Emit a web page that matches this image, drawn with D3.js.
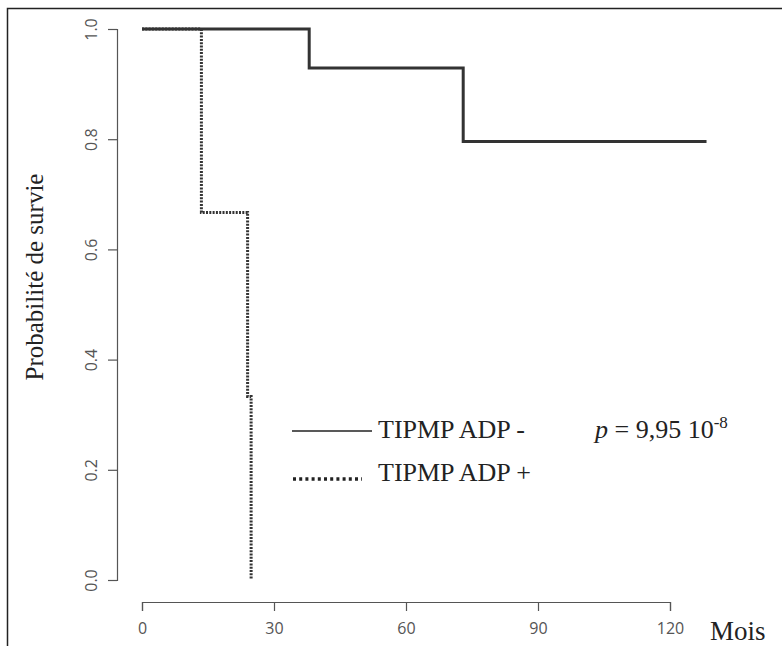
<!DOCTYPE html>
<html>
<head>
<meta charset="utf-8">
<script src="https://d3js.org/d3.v7.min.js"></script>
<style>
  body { margin: 0; background: #fff; }
</style>
</head>
<body>
<div id="vis"></div>
<script>
// survival curves (months, probability)
const adpNegTimes = [0, 38, 73, 128.3];
const adpNegSurv = [1.0, 0.929, 0.796, 0.796];
const adpPosTimes = [0, 13.5, 24, 24.8];
const adpPosSurv = [1.0, 0.667, 0.333, 0.0];
const xTicks = [0, 30, 60, 90, 120];
const yTicks = [0, 0.2, 0.4, 0.6, 0.8, 1.0];
const legendLabels = ['TIPMP ADP -', 'TIPMP ADP +'];

const W = 782, H = 646;
const svg = d3.select('#vis').append('svg').attr('width', W).attr('height', H);

// frame (cut off on right and bottom)
svg.append('path')
    .attr('d', `M7.5,${H} L7.5,8.5 L${W},8.5`)
    .attr('fill', 'none').attr('stroke', '#222').attr('stroke-width', 1.5);

const x = d3.scaleLinear().domain([0, 120]).range([142, 670]);
const y = d3.scaleLinear().domain([0, 1]).range([580, 29]);

const axisColor = '#555';
const xAxis = svg.append('g').attr('transform', 'translate(0,602)')
    .call(d3.axisBottom(x).tickValues(xTicks).tickSize(9).tickPadding(12).tickFormat(d3.format('d')));
const yAxis = svg.append('g').attr('transform', 'translate(117,0)')
    .call(d3.axisLeft(y).tickValues(yTicks).tickSize(9).tickFormat(d3.format('.1f')));
[xAxis, yAxis].forEach(g => {
    g.select('.domain').attr('stroke', axisColor).attr('stroke-width', 1.2);
    g.selectAll('.tick line').attr('stroke', axisColor).attr('stroke-width', 1.2);
    g.selectAll('.tick text').attr('fill', axisColor)
        .style('font-family', '"Open Sans", sans-serif').style('font-size', '16px');
});
yAxis.selectAll('.tick text')
    .attr('x', 0).attr('dy', 0)
    .attr('text-anchor', 'middle')
    .attr('transform', 'translate(-20,0) rotate(-90)');

const step = (times, surv) => d3.line()
    .x(d => x(d[0])).y(d => y(d[1]))
    .curve(d3.curveStepAfter)(times.map((t, i) => [t, surv[i]]));

svg.append('path').attr('d', step(adpNegTimes, adpNegSurv))
    .attr('fill', 'none').attr('stroke', '#333').attr('stroke-width', 3);
svg.append('path').attr('d', step(adpPosTimes, adpPosSurv))
    .attr('fill', 'none').attr('stroke', '#333').attr('stroke-width', 3)
    .attr('stroke-dasharray', '2,1.3');

// legend
const serif = '"Liberation Serif", "Times New Roman", serif';
svg.append('line').attr('x1', 292).attr('x2', 372).attr('y1', 431).attr('y2', 431)
    .attr('stroke', '#222').attr('stroke-width', 1.5);
svg.append('line').attr('x1', 293).attr('x2', 362).attr('y1', 479).attr('y2', 479)
    .attr('stroke', '#222').attr('stroke-width', 3.5).attr('stroke-dasharray', '3,3.2');
legendLabels.forEach((l, i) => {
    svg.append('text').attr('x', 378).attr('y', 438 + i * 43)
        .attr('font-family', serif).attr('font-size', 26).attr('fill', '#222')
        .text(l);
});

const p = svg.append('text').attr('x', 595).attr('y', 438)
    .attr('font-family', serif).attr('font-size', 26).attr('fill', '#222');
p.append('tspan').attr('font-style', 'italic').text('p');
p.append('tspan').text(' = 9,95 10');
p.append('tspan').attr('dy', -10).attr('font-size', 17).text('-8');

svg.append('text').attr('x', 710).attr('y', 640)
    .attr('font-family', serif).attr('font-size', 27).attr('fill', '#222')
    .text('Mois');

svg.append('text')
    .attr('transform', 'translate(43,277) rotate(-90)')
    .attr('text-anchor', 'middle')
    .attr('font-family', serif).attr('font-size', 25).attr('fill', '#222')
    .text('Probabilité de survie');
</script>
</body>
</html>
